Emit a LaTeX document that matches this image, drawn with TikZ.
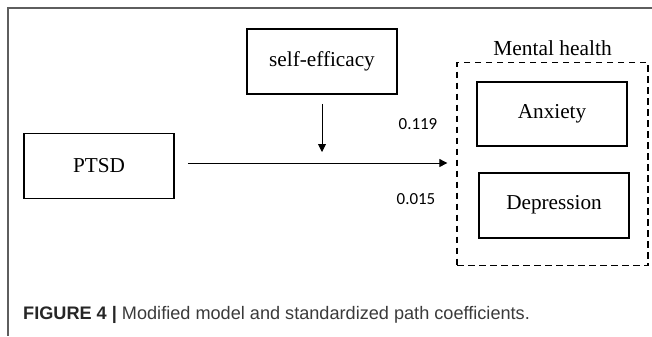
\documentclass[tikz,border=0pt]{standalone}
\usepackage{fontspec}
\setmainfont{Liberation Serif}
\newfontfamily\numfont{Carlito}
\newfontfamily\capfont{Liberation Sans}
\usepackage{xcolor}
\usetikzlibrary{arrows.meta,positioning}
\definecolor{framegray}{HTML}{5E5E5E}
\definecolor{capgray}{HTML}{3A3A3A}

\begin{document}
\begin{tikzpicture}[x=1bp,y=-1bp,
    varbox/.style={draw=black,line width=1.7bp,minimum width=150bp,
      minimum height=65bp,inner sep=0pt,font=\fontsize{21.3}{24}\selectfont},
    group/.style={draw=black,line width=1.3bp,dash pattern=on 6.5bp off 4.5bp,
      minimum width=191bp,minimum height=203bp,inner sep=0pt},
    coef/.style={font=\numfont\fontsize{17}{20}\selectfont,inner sep=0pt},
    flow/.style={-{Triangle[length=8bp,width=8bp]},line width=0.9bp}
  ]
    \useasboundingbox (0,0) rectangle (652,336);
    \draw[framegray,line width=1.4bp] (652,8) -- (8,8) -- (8,336);
    \node[varbox] (ptsd) at (99,166) {PTSD};
    \node[varbox] (selfeff) at (322,61.5) {self-efficacy};
    \node[group] (mh) at (552.5,164) {};
    \node[above=6bp of mh,font=\fontsize{21.5}{24}\selectfont,inner sep=0pt] (mhlabel) {Mental health};
    \node[varbox,minimum height=64bp] (anxiety) at (552,114) {Anxiety};
    \node[varbox,below=25bp of anxiety,xshift=2bp] (depression) {Depression};
    \node[coef] (c1) at (418,124) {0.119};
    \node[coef] (c2) at (416,199) {0.015};
    \coordinate (hit) at (322,152);
    \draw[flow,shorten <=13bp,shorten >=9bp] ([yshift=3bp]ptsd.east) -- ([yshift=3bp]ptsd.east -| mh.west);
    \draw[flow,shorten <=9bp] (selfeff.south) -- (hit);
    \node[anchor=base west,inner sep=0pt,font=\capfont\fontsize{18.2}{21}\selectfont,text=capgray] (caption) at (23,319)
      {\textbf{\color{black!85}FIGURE 4 |} Modified model and standardized path coefficients.};
  \end{tikzpicture}
\end{document}
